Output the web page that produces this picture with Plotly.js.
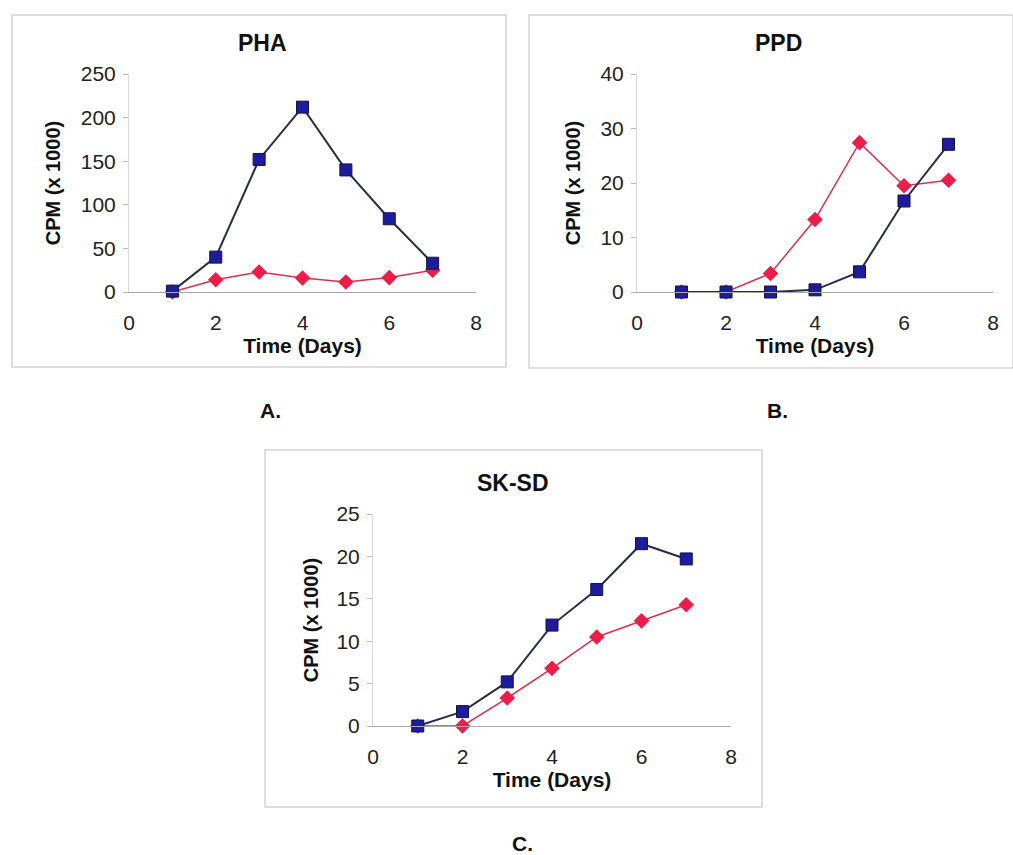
<!DOCTYPE html>
<html>
<head>
<meta charset="utf-8">
<script src="https://cdn.plot.ly/plotly-3.0.1.min.js"></script>
<style>
html,body{margin:0;padding:0;background:#fff;}
#chart{width:1013px;height:855px;}
</style>
</head>
<body>
<div id="chart"></div>
<script>
// ---- data ----
const days = [1, 2, 3, 4, 5, 6, 7];
const phaBlue = [1, 40, 152, 212, 140, 84, 33];
const phaRed  = [0, 14, 23, 16, 11.5, 16.5, 25];
const ppdBlue = [0, 0, 0, 0.4, 3.7, 16.7, 27.1];
const ppdRed  = [0, 0, 3.4, 13.3, 27.4, 19.5, 20.5];
const sksdBlue = [0, 1.7, 5.2, 11.9, 16.1, 21.5, 19.7];
const sksdRed  = [0, 0, 3.3, 6.8, 10.5, 12.4, 14.3];
const panelTitles = ["PHA", "PPD", "SK-SD"];
const panelLabels = ["A.", "B.", "C."];
const xTitle = "Time (Days)";
const yTitle = "CPM (x 1000)";
const xTicks = [0, 2, 4, 6, 8];
const yRanges = [[0, 250, 50], [0, 40, 10], [0, 25, 5]];

// ---- styles ----
const W = 1013, H = 855;
const blueMarker = {symbol: 'square', size: 12, color: '#1c1c9c', line: {color: '#12124a', width: 1}};
const redMarker = {symbol: 'diamond', size: 12, color: '#ea1e48', line: {color: '#ea1e48', width: 0}};
const blueLine = {color: '#2a2a4a', width: 2};
const redLine = {color: '#d8304e', width: 1.5};
const FONT = 'Liberation Sans, Arial, sans-serif';

function px2x(p) { return p / W; }
function px2y(p) { return 1 - p / H; }

// plot-area pixel boxes [left, right, top, bottom]
const boxes = [
  [129, 476, 74, 292],
  [637, 993, 74, 292],
  [373, 731, 514, 726]
];
const seriesBlue = [phaBlue, ppdBlue, sksdBlue];
const seriesRed = [phaRed, ppdRed, sksdRed];
const yStandoff = [14, 14, 12];

const traces = [];
const layout = {
  width: W, height: H,
  margin: {l: 0, r: 0, t: 0, b: 0},
  paper_bgcolor: '#ffffff', plot_bgcolor: 'rgba(0,0,0,0)',
  showlegend: false,
  font: {family: FONT, color: '#222'},
  annotations: [], shapes: []
};

for (let i = 0; i < 3; i++) {
  const s = i === 0 ? '' : String(i + 1);
  const xa = 'x' + s, ya = 'y' + s;
  traces.push({x: days, y: seriesRed[i], xaxis: xa, yaxis: ya, type: 'scatter', mode: 'lines+markers',
    line: redLine, marker: redMarker, cliponaxis: false});
  traces.push({x: days, y: seriesBlue[i], xaxis: xa, yaxis: ya, type: 'scatter', mode: 'lines+markers',
    line: blueLine, marker: blueMarker, cliponaxis: false});
  const b = boxes[i];
  layout['xaxis' + s] = {
    domain: [px2x(b[0]), px2x(b[1])], anchor: ya, range: [0, 8],
    tickvals: xTicks, ticks: '', showgrid: false, zeroline: false,
    showline: true, linecolor: '#a8a8a8', linewidth: 1.2,
    tickfont: {size: 21, color: '#222'}, ticklabelstandoff: 12,
    title: {text: xTitle, font: {size: 21, color: '#111', weight: 'bold'}, standoff: 2},
    fixedrange: true
  };
  const yr = yRanges[i];
  layout['yaxis' + s] = {
    domain: [px2y(b[3]), px2y(b[2])], anchor: xa, range: [yr[0], yr[1]],
    dtick: yr[2], tick0: 0, ticks: 'outside', ticklen: 5, tickcolor: '#b8b8b8',
    showgrid: false, zeroline: false, showline: true, linecolor: '#d8d8d8', linewidth: 1,
    tickfont: {size: 21, color: '#222'}, ticklabelstandoff: 3,
    title: {text: yTitle, font: {size: 20, color: '#111', weight: 'bold'}, standoff: yStandoff[i]},
    fixedrange: true
  };
}

// panel frames
const frames = [[12, 15, 506, 367], [529, 15, 1013, 368], [265, 450, 762, 807]];
frames.forEach(f => layout.shapes.push({type: 'rect', xref: 'paper', yref: 'paper',
  x0: px2x(f[0]), x1: px2x(f[2]), y0: px2y(f[3]), y1: px2y(f[1]),
  line: {color: '#d4d4d4', width: 1.5}, fillcolor: 'rgba(0,0,0,0)', layer: 'below'}));

// panel titles
const titlePos = [[262, 43], [778, 43], [513, 483]];
titlePos.forEach((p, i) => layout.annotations.push({text: panelTitles[i], xref: 'paper', yref: 'paper',
  x: px2x(p[0]), y: px2y(p[1]), xanchor: 'center', yanchor: 'middle', showarrow: false,
  font: {size: 23, color: '#111', weight: 'bold'}}));

// panel letters
const labelPos = [[270, 410], [777, 410], [522, 843]];
labelPos.forEach((p, i) => layout.annotations.push({text: panelLabels[i], xref: 'paper', yref: 'paper',
  x: px2x(p[0]), y: px2y(p[1]), xanchor: 'center', yanchor: 'middle', showarrow: false,
  font: {size: 21, color: '#111', weight: 'bold'}}));

Plotly.newPlot('chart', traces, layout, {displayModeBar: false, staticPlot: true});
</script>
</body>
</html>
